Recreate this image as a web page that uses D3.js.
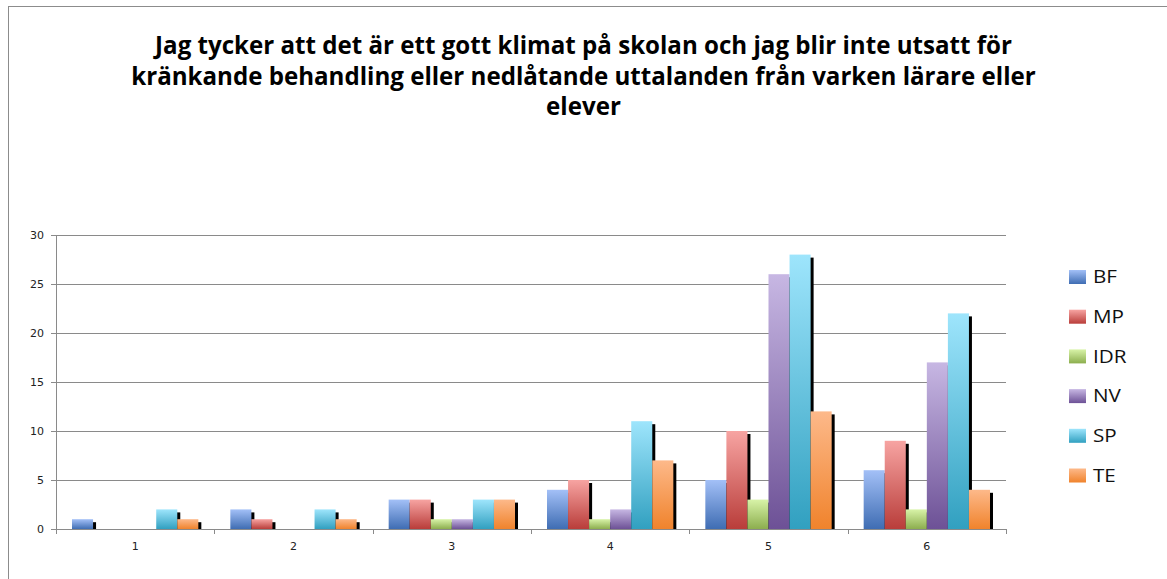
<!DOCTYPE html>
<html><head><meta charset="utf-8">
<script src="https://cdn.jsdelivr.net/npm/d3@7"></script>
<style>body{margin:0;background:#fff}svg{display:block}</style>
</head><body>
<svg id="c" width="1167" height="579"></svg>
<script>
const categories = ["1","2","3","4","5","6"];
const seriesNames = ["BF","MP","IDR","NV","SP","TE"];
const BF  = [1,2,3,4,5,6];
const MP  = [0,1,3,5,10,9];
const IDR = [0,0,1,1,3,2];
const NV  = [0,0,1,2,26,17];
const SP  = [2,2,3,11,28,22];
const TE  = [1,1,3,7,12,4];
const yTicks = [0,5,10,15,20,25,30];
const titleLines = [
  "Jag tycker att det är ett gott klimat på skolan och jag blir inte utsatt för",
  "kränkande behandling eller nedlåtande uttalanden från varken lärare eller",
  "elever"
];
const seriesValues = [BF,MP,IDR,NV,SP,TE];
const colors = [
  ["#a3c0f7","#3f6db3"],
  ["#f7a4a2","#b93d3a"],
  ["#d8f3a8","#8cae4e"],
  ["#c7b7e3","#6d5196"],
  ["#9ee5fc","#31a0c0"],
  ["#fdb98a","#f0832c"]
];

const svg = d3.select("#c");
const defs = svg.append("defs");
colors.forEach((c,i)=>{
  const g = defs.append("linearGradient").attr("id","g"+i).attr("x1",0).attr("y1",0).attr("x2",0).attr("y2",1);
  g.append("stop").attr("offset","0%").attr("stop-color",c[0]);
  g.append("stop").attr("offset","100%").attr("stop-color",c[1]);
});

// outer border
svg.append("rect").attr("x",8.5).attr("y",6.5).attr("width",1200).attr("height",600)
  .attr("fill","none").attr("stroke","#8c8c8c").attr("stroke-width",1);

// title
const title = svg.append("g");
const tl = title.selectAll("text").data(titleLines).join("text")
  .attr("x",583.5).attr("y",(d,i)=>54+i*30.5)
  .attr("text-anchor","middle")
  .style("font-family","'Open Sans', sans-serif").style("font-weight","700")
  .style("font-size","20px").attr("fill","#000").text(d=>d);
const w0 = tl.nodes()[0].getComputedTextLength();
const fs = 20*857/w0;
tl.style("font-size",fs+"px");

const pL=56, pR=1006, pT=235, pB=529;
const x0 = d3.scaleBand().domain(categories).range([pL,pR]).padding(0);
const inner = 16;
const x1 = d3.scaleBand().domain(seriesNames).range([inner, x0.bandwidth()-inner]).padding(0);
const y = d3.scaleLinear().domain([0,30]).range([pB,pT]);

// gridlines
svg.append("g").selectAll("line").data(yTicks).join("line")
  .attr("x1",pL-5).attr("x2",pR).attr("y1",d=>Math.round(y(d))+0.5).attr("y2",d=>Math.round(y(d))+0.5)
  .attr("stroke","#8a8a8a").attr("stroke-width",1);

// y axis
const yAxis = d3.axisLeft(y).tickValues(yTicks).tickSize(0).tickPadding(12);
const ya = svg.append("g").attr("transform",`translate(${pL},0)`).call(yAxis);
ya.select(".domain").remove();
ya.selectAll("text").style("font-family","'DejaVu Sans', sans-serif").style("font-size","11px").attr("fill","#222");
svg.append("line").attr("x1",pL+0.5).attr("x2",pL+0.5).attr("y1",pT).attr("y2",pB+0.5)
  .attr("stroke","#8a8a8a");

// x axis
const xAxis = d3.axisBottom(x0).tickSize(0).tickPadding(13);
const xa = svg.append("g").attr("transform",`translate(0,${pB})`).call(xAxis);
xa.select(".domain").remove();
xa.selectAll("text").style("font-family","'DejaVu Sans', sans-serif").style("font-size","11px").attr("fill","#222");
const bounds = categories.map(c=>x0(c)).concat([pR]);
svg.append("g").selectAll("line").data(bounds).join("line")
  .attr("x1",d=>Math.round(d)+0.5).attr("x2",d=>Math.round(d)+0.5).attr("y1",pB).attr("y2",pB+5)
  .attr("stroke","#8a8a8a");

// data
const flat = [];
seriesValues.forEach((arr,si)=>arr.forEach((v,ci)=>flat.push({s:seriesNames[si],si,c:categories[ci],v})));
const bars = flat.filter(d=>d.v>0);

// shadows
svg.append("g").selectAll("rect").data(bars).join("rect")
  .attr("x",d=>x0(d.c)+x1(d.s)+3).attr("y",d=>y(d.v)+3)
  .attr("width",x1.bandwidth()).attr("height",d=>pB-y(d.v)-3)
  .attr("fill","#000");
// bars
svg.append("g").selectAll("rect").data(bars).join("rect")
  .attr("x",d=>x0(d.c)+x1(d.s)).attr("y",d=>y(d.v))
  .attr("width",x1.bandwidth()).attr("height",d=>pB-y(d.v))
  .attr("fill",d=>`url(#g${d.si})`);

// redraw baseline on top
svg.append("line").attr("x1",pL).attr("x2",pR).attr("y1",pB+0.5).attr("y2",pB+0.5).attr("stroke","#8a8a8a");

// legend
const lg = svg.append("g").selectAll("g").data(seriesNames).join("g")
  .attr("transform",(d,i)=>`translate(1069,${277+i*39.7})`);
lg.append("rect").attr("x",0).attr("y",-7).attr("width",17).attr("height",14)
  .attr("fill",(d,i)=>`url(#g${i})`);
lg.append("text").attr("transform","translate(24,0) scale(1.18,1)").attr("dy","0.36em")
  .style("font-family","'Open Sans', sans-serif").style("font-size","17.5px").attr("fill","#111").text(d=>d);
</script>
</body></html>
